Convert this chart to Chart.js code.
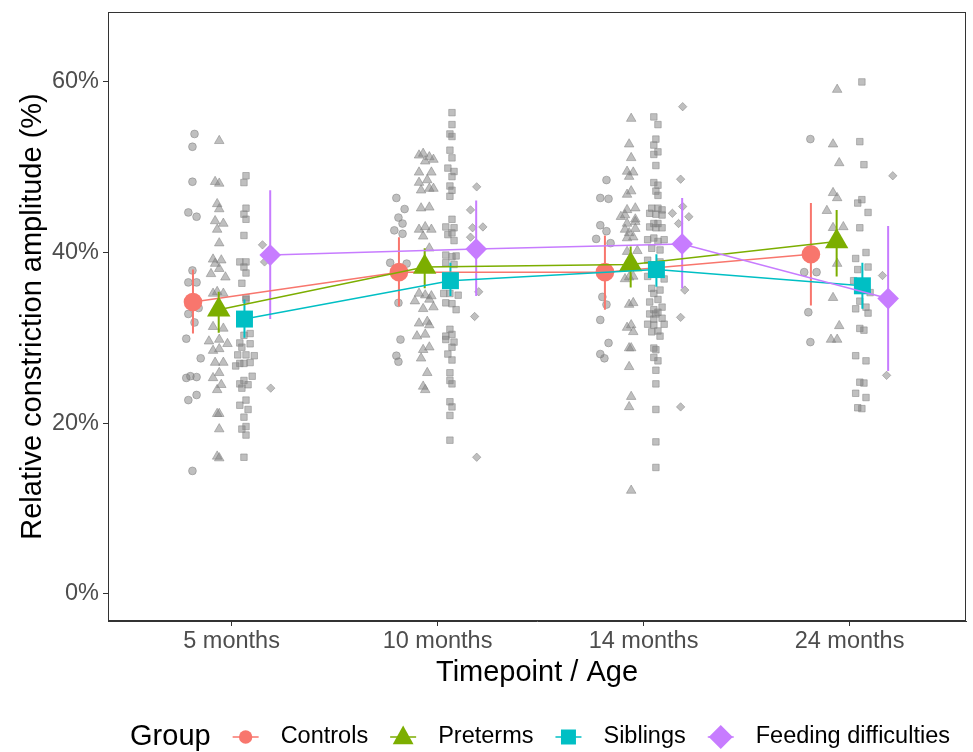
<!DOCTYPE html>
<html>
<head>
<meta charset="utf-8">
<script src="https://cdn.jsdelivr.net/npm/chart.js@4.4.1/dist/chart.umd.min.js"></script>
<style>
  html, body { margin: 0; padding: 0; background: #fff; }
</style>
</head>
<body>
<canvas id="chart" width="973" height="752"></canvas>
<script>
// timepoints on the x axis
let timepoints = ['5 months', '10 months', '14 months', '24 months'];
let groups = ['Controls', 'Preterms', 'Siblings', 'Feeding difficulties'];

// group means (%) and error bar ends
let controlsMean = [34.2, 37.7, 37.7, 39.8];
let controlsLow  = [30.5, 33.7, 33.3, 33.8];
let controlsHigh = [38.0, 41.8, 42.0, 45.8];

let pretermsMean = [33.3, 38.3, 38.6, 41.3];
let pretermsLow  = [30.6, 35.8, 35.9, 37.2];
let pretermsHigh = [35.4, 40.5, 40.7, 45.0];

let siblingsMean = [32.2, 36.7, 38.0, 36.1];
let siblingsLow  = [30.0, 34.9, 36.0, 33.4];
let siblingsHigh = [34.5, 38.8, 39.8, 38.8];

let feedingMean = [39.7, 40.4, 41.0, 34.6];
let feedingLow  = [32.2, 34.9, 35.8, 26.1];
let feedingHigh = [47.3, 46.1, 46.4, 43.1];

// individual (jittered) observations: [x, value %]
let controlsRaw = [
  [0.82,53.9],[0.81,52.4],[0.81,48.3],[0.79,44.7],[0.83,44.2],[0.81,37.9],[0.79,36.5],[0.83,36.5],
  [0.79,32.8],[0.84,33.5],[0.82,31.8],[0.78,29.9],[0.85,27.6],[0.78,25.3],[0.80,25.5],[0.83,25.4],
  [0.79,22.7],[0.83,23.3],[0.81,14.4],
  [1.80,46.4],[1.84,45.1],[1.81,44.1],[1.83,43.4],[1.79,42.6],[1.83,42.2],[1.77,38.8],[1.85,38.7],
  [1.81,34.1],[1.82,29.8],[1.80,27.9],[1.81,27.2],
  [2.82,48.5],[2.79,46.4],[2.83,46.3],[2.79,43.2],[2.82,42.5],[2.77,41.6],[2.84,41.1],[2.80,34.8],
  [2.82,33.9],[2.79,32.1],[2.83,29.4],[2.79,28.1],[2.81,27.6],
  [3.81,53.3],[3.78,37.7],[3.84,37.7],[3.80,33.0],[3.81,29.5]
];
let pretermsRaw = [
  [0.94,53.1],[0.92,48.3],[0.94,48.1],[0.93,45.7],[0.94,45.1],[0.92,43.7],[0.96,43.4],[0.93,42.7],
  [0.94,41.1],[0.91,39.2],[0.95,39.1],[0.92,38.7],[0.94,38.1],[0.90,37.5],[0.97,37.1],[0.91,35.2],
  [0.93,35.4],[0.96,35.2],[0.91,31.3],[0.96,31.1],[0.89,29.6],[0.94,29.8],[0.98,29.3],[0.91,28.5],
  [0.94,28.7],[0.92,27.1],[0.96,27.1],[0.94,25.9],[0.91,25.3],[0.95,24.5],[0.93,23.9],[0.93,21.1],
  [0.94,21.1],[0.94,19.3],[0.93,16.1],[0.94,15.9],
  [1.91,51.4],[1.93,51.6],[1.96,51.2],[1.98,50.9],[1.94,50.7],[1.91,49.4],[1.97,49.4],[1.91,48.2],
  [1.95,48.5],[1.92,47.3],[1.96,47.5],[1.98,47.5],[1.92,45.2],[1.96,45.3],[1.91,42.7],[1.94,43.0],
  [1.97,42.7],[1.93,41.9],[1.96,40.5],[1.91,35.2],[1.94,35.0],[1.97,34.9],[1.89,34.3],[1.96,34.5],
  [1.93,33.4],[1.98,33.6],[1.91,31.7],[1.95,31.9],[1.96,31.5],[1.90,30.2],[1.94,30.4],[1.93,28.6],
  [1.96,28.9],[1.92,27.6],[1.95,25.9],[1.93,24.3],[1.94,23.9],
  [2.94,55.7],[2.93,52.7],[2.94,51.1],[2.92,49.5],[2.95,49.4],[2.93,48.9],[2.92,46.8],[2.94,47.2],
  [2.92,45.0],[2.96,45.2],[2.91,44.4],[2.89,44.2],[2.96,43.9],[2.92,43.4],[2.96,43.6],[2.91,42.7],
  [2.96,42.8],[2.93,42.3],[2.92,41.7],[2.95,41.8],[2.92,40.1],[2.97,40.2],[2.93,37.1],[2.95,37.2],
  [2.91,36.9],[2.93,33.9],[2.95,34.1],[2.92,31.2],[2.94,31.5],[2.95,30.7],[2.93,28.8],[2.94,28.8],
  [2.93,26.6],[2.94,23.1],[2.93,21.9],[2.94,12.1],
  [3.94,59.1],[3.92,52.7],[3.95,50.5],[3.92,47.0],[3.94,46.4],[3.89,44.9],[3.97,43.0],[3.92,42.9],
  [3.94,38.7],[3.92,34.7],[3.95,31.4],[3.91,29.8],[3.94,29.8]
];
let siblingsRaw = [
  [1.07,49.0],[1.06,48.2],[1.07,45.2],[1.06,44.5],[1.07,43.9],[1.06,42.0],[1.04,38.9],[1.07,38.9],
  [1.06,38.3],[1.07,37.6],[1.05,36.4],[1.07,34.7],[1.07,34.5],[1.09,30.5],[1.06,30.3],[1.04,29.4],
  [1.09,29.3],[1.05,28.9],[1.03,28.0],[1.07,28.0],[1.11,27.9],[1.02,26.7],[1.04,27.0],[1.06,27.0],
  [1.09,27.1],[1.10,25.5],[1.04,24.6],[1.06,25.0],[1.08,24.5],[1.05,24.1],[1.07,22.7],[1.04,22.1],
  [1.08,21.6],[1.06,20.7],[1.07,19.6],[1.05,19.3],[1.07,18.6],[1.06,16.0],
  [2.07,56.4],[2.07,55.0],[2.06,53.9],[2.07,53.6],[2.06,52.0],[2.07,51.1],[2.05,49.9],[2.08,49.5],
  [2.07,48.9],[2.06,47.8],[2.07,47.3],[2.06,46.6],[2.07,43.9],[2.04,43.0],[2.08,42.9],[2.05,42.1],
  [2.07,42.3],[2.08,41.4],[2.04,39.7],[2.07,39.5],[2.09,39.6],[2.04,38.8],[2.08,38.6],[2.03,35.2],
  [2.06,35.2],[2.10,35.0],[2.04,34.1],[2.07,34.0],[2.09,33.3],[2.06,31.0],[2.04,30.2],[2.07,30.4],
  [2.08,29.5],[2.04,29.8],[2.07,28.9],[2.05,28.1],[2.07,27.4],[2.06,25.9],[2.06,25.0],[2.07,24.6],
  [2.06,22.5],[2.07,21.9],[2.06,20.9],[2.06,18.0],
  [3.05,55.9],[3.07,55.0],[3.06,53.3],[3.05,52.6],[3.07,51.8],[3.05,51.5],[3.06,50.2],[3.05,48.2],
  [3.07,47.9],[3.06,47.2],[3.07,46.7],[3.04,45.2],[3.07,45.2],[3.09,45.0],[3.03,44.6],[3.06,44.5],
  [3.09,44.4],[3.05,43.4],[3.07,43.4],[3.03,43.0],[3.06,42.9],[3.09,42.9],[3.02,41.5],[3.05,41.7],
  [3.07,41.3],[3.10,41.5],[3.04,40.5],[3.08,40.3],[3.02,39.1],[3.08,38.9],[3.02,37.2],[3.10,36.9],
  [3.04,35.8],[3.08,35.6],[3.05,35.2],[3.07,34.5],[3.03,34.2],[3.09,33.6],[3.05,33.3],[3.07,33.0],
  [3.03,32.8],[3.09,32.3],[3.05,32.2],[3.06,32.8],[3.02,31.6],[3.05,31.5],[3.10,31.6],[3.04,30.7],
  [3.08,30.2],[3.07,30.8],[3.05,28.8],[3.06,28.6],[3.05,27.7],[3.07,27.3],[3.06,26.2],[3.06,24.6],
  [3.06,21.6],[3.06,17.8],[3.06,14.8],
  [4.06,60.0],[4.05,53.0],[4.07,50.3],[4.04,45.8],[4.06,46.2],[4.09,44.7],[4.05,42.9],[4.08,40.0],
  [4.03,39.3],[4.09,38.3],[4.04,38.0],[4.02,36.7],[4.10,35.3],[4.05,34.3],[4.03,33.4],[4.08,33.6],
  [4.09,32.9],[4.05,31.1],[4.07,30.9],[4.03,27.9],[4.08,27.3],[4.05,24.8],[4.07,24.7],[4.03,23.5],
  [4.08,23.0],[4.04,21.8],[4.06,21.7]
];
let feedingRaw = [
  [1.15,40.9],[1.16,38.9],[1.19,24.1],
  [2.19,47.7],[2.16,45.0],[2.17,42.9],[2.22,43.0],[2.16,41.8],[2.20,35.4],[2.18,32.5],[2.19,16.0],
  [3.19,57.1],[3.18,48.6],[3.19,45.4],[3.14,44.6],[3.22,44.2],[3.17,43.4],[3.20,35.6],[3.18,32.4],
  [3.18,21.9],
  [4.21,49.0],[4.16,37.3],[4.18,25.6]
];

let groupColors = ['#F8766D', '#7CAE00', '#00BFC4', '#C77CFF'];
let groupShapes = ['circle', 'triangle', 'rect', 'rectRot'];
let bigRadius = [9.3, 13.5, 12, 10.8];
let rawRadius = [3.9, 5.5, 4.6, 4.2];
let legendRadius = [6.7, 12, 10.6, 12];
let dodge = [-0.1875, -0.0625, 0.0625, 0.1875];

let means = [controlsMean, pretermsMean, siblingsMean, feedingMean];
let lows = [controlsLow, pretermsLow, siblingsLow, feedingLow];
let highs = [controlsHigh, pretermsHigh, siblingsHigh, feedingHigh];
let raws = [controlsRaw, pretermsRaw, siblingsRaw, feedingRaw];

const FONT = '"Liberation Sans", Arial, Helvetica, sans-serif';
Chart.defaults.font.family = FONT;

let datasets = [];

groups.forEach((g, gi) => {
  // raw observations in grey
  datasets.push({
    type: 'scatter',
    label: g + ' raw',
    data: raws[gi].map(p => ({ x: p[0], y: p[1] })),
    pointStyle: groupShapes[gi],
    pointRadius: rawRadius[gi],
    backgroundColor: 'rgba(127,127,127,0.5)',
    borderColor: 'rgba(127,127,127,0.5)',
    borderWidth: 1,
    order: 10,
  });

  // error bars, one segment per timepoint split by nulls
  let bars = [];
  means[gi].forEach((m, i) => {
    let x = i + 1 + dodge[gi];
    bars.push({ x: x, y: lows[gi][i] });
    bars.push({ x: x, y: highs[gi][i] });
    bars.push({ x: x, y: null });
  });
  datasets.push({
    type: 'line',
    label: g + ' error',
    data: bars,
    borderColor: groupColors[gi],
    borderWidth: 2,
    pointRadius: 0,
    spanGaps: false,
    order: 5 - gi * 0.1,
  });

  // means connected by lines
  datasets.push({
    type: 'line',
    label: g,
    data: means[gi].map((m, i) => ({ x: i + 1 + dodge[gi], y: m })),
    borderColor: groupColors[gi],
    backgroundColor: groupColors[gi],
    borderWidth: 1.5,
    tension: 0,
    pointStyle: groupShapes[gi],
    pointRadius: bigRadius[gi],
    pointBorderWidth: 0,
    pointBackgroundColor: groupColors[gi],
    pointBorderColor: groupColors[gi],
    order: 1 - gi * 0.1,
  });
});

// panel border on all four sides
const frame = {
  id: 'frame',
  afterDraw(chart) {
    let a = chart.chartArea;
    let ctx = chart.ctx;
    ctx.save();
    ctx.strokeStyle = '#333333';
    ctx.lineWidth = 1;
    ctx.strokeRect(a.left + 0.5, a.top + 0.5, a.right - a.left - 1, a.bottom - a.top - 1);
    ctx.restore();
  }
};

// ggplot-like legend drawn in one row under the axis title
const groupLegend = {
  id: 'groupLegend',
  afterDraw(chart) {
    let ctx = chart.ctx;
    let a = chart.chartArea;
    let y = 737;
    let keyW = 26, gap = 22;
    ctx.save();
    ctx.textBaseline = 'middle';
    ctx.textAlign = 'left';
    ctx.font = '29px ' + FONT;
    let titleW = ctx.measureText('Group').width;
    ctx.font = '23.5px ' + FONT;
    let widths = groups.map(g => ctx.measureText(g).width);
    let total = titleW + widths.reduce((s, w) => s + w + keyW + 2 * gap, 0);
    let x = (a.left + a.right) / 2 + 3 - total / 2;

    ctx.fillStyle = '#000';
    ctx.font = '29px ' + FONT;
    ctx.fillText('Group', x, y);
    x += titleW + gap;

    groups.forEach((g, gi) => {
      let cx = x + keyW / 2;
      let r = legendRadius[gi];
      ctx.strokeStyle = groupColors[gi];
      ctx.fillStyle = groupColors[gi];
      ctx.lineWidth = 1.5;
      ctx.beginPath();
      ctx.moveTo(x, y);
      ctx.lineTo(x + keyW, y);
      ctx.stroke();
      ctx.beginPath();
      if (groupShapes[gi] === 'circle') {
        ctx.arc(cx, y, r, 0, Math.PI * 2);
      } else if (groupShapes[gi] === 'triangle') {
        let h = r * 0.866;
        ctx.moveTo(cx, y - r * 0.95);
        ctx.lineTo(cx + h, y + r * 0.6);
        ctx.lineTo(cx - h, y + r * 0.6);
        ctx.closePath();
      } else if (groupShapes[gi] === 'rect') {
        let s = r * Math.SQRT1_2;
        ctx.rect(cx - s, y - s, 2 * s, 2 * s);
      } else {
        ctx.moveTo(cx, y - r);
        ctx.lineTo(cx + r, y);
        ctx.lineTo(cx, y + r);
        ctx.lineTo(cx - r, y);
        ctx.closePath();
      }
      ctx.fill();
      x += keyW + gap;
      ctx.fillStyle = '#000';
      ctx.font = '23.5px ' + FONT;
      ctx.fillText(g, x, y);
      x += widths[gi] + gap;
    });
    ctx.restore();
  }
};

// keep the panel exactly where the reference has it
function noEdgePadding(scale) {
  scale.paddingLeft = 0;
  scale.paddingRight = 0;
  scale.paddingTop = 0;
  scale.paddingBottom = 0;
}

new Chart(document.getElementById('chart'), {
  data: { datasets: datasets },
  options: {
    responsive: false,
    animation: false,
    layout: { autoPadding: false, padding: { top: 12, right: 7, left: 0, bottom: 0 } },
    plugins: {
      legend: { display: false },
      tooltip: { enabled: false },
    },
    scales: {
      x: {
        type: 'linear',
        min: 0.4,
        max: 4.5655,
        afterBuildTicks: (axis) => { axis.ticks = [1, 2, 3, 4].map(v => ({ value: v })); },
        afterFit: (scale) => { scale.height = 131; noEdgePadding(scale); },
        border: { display: true, color: '#333333', width: 1 },
        grid: { display: true, drawOnChartArea: false, drawTicks: true, tickLength: 5, color: '#333333' },
        ticks: {
          color: '#4D4D4D',
          font: { size: 23.5, lineHeight: 1.2 },
          padding: 1.5,
          maxRotation: 0,
          autoSkip: false,
          callback: (v) => timepoints[v - 1],
        },
        title: {
          display: true,
          text: 'Timepoint / Age',
          color: '#000',
          font: { size: 29, lineHeight: 1.2 },
          padding: { top: 0, bottom: 62 },
        },
      },
      y: {
        type: 'linear',
        min: -3.2,
        max: 68.2,
        afterBuildTicks: (axis) => { axis.ticks = [0, 20, 40, 60].map(v => ({ value: v })); },
        afterFit: (scale) => { scale.width = 108; noEdgePadding(scale); },
        border: { display: true, color: '#333333', width: 1 },
        grid: { display: true, drawOnChartArea: false, drawTicks: true, tickLength: 5, color: '#333333' },
        ticks: {
          color: '#4D4D4D',
          font: { size: 23.5, lineHeight: 1.2 },
          padding: 4,
          callback: (v) => v + '%',
        },
        title: {
          display: true,
          text: 'Relative constriction amplitude (%)',
          color: '#000',
          font: { size: 29, lineHeight: 1.2 },
          padding: { top: 16, bottom: 0 },
        },
      },
    },
  },
  plugins: [frame, groupLegend],
});
</script>
</body>
</html>
